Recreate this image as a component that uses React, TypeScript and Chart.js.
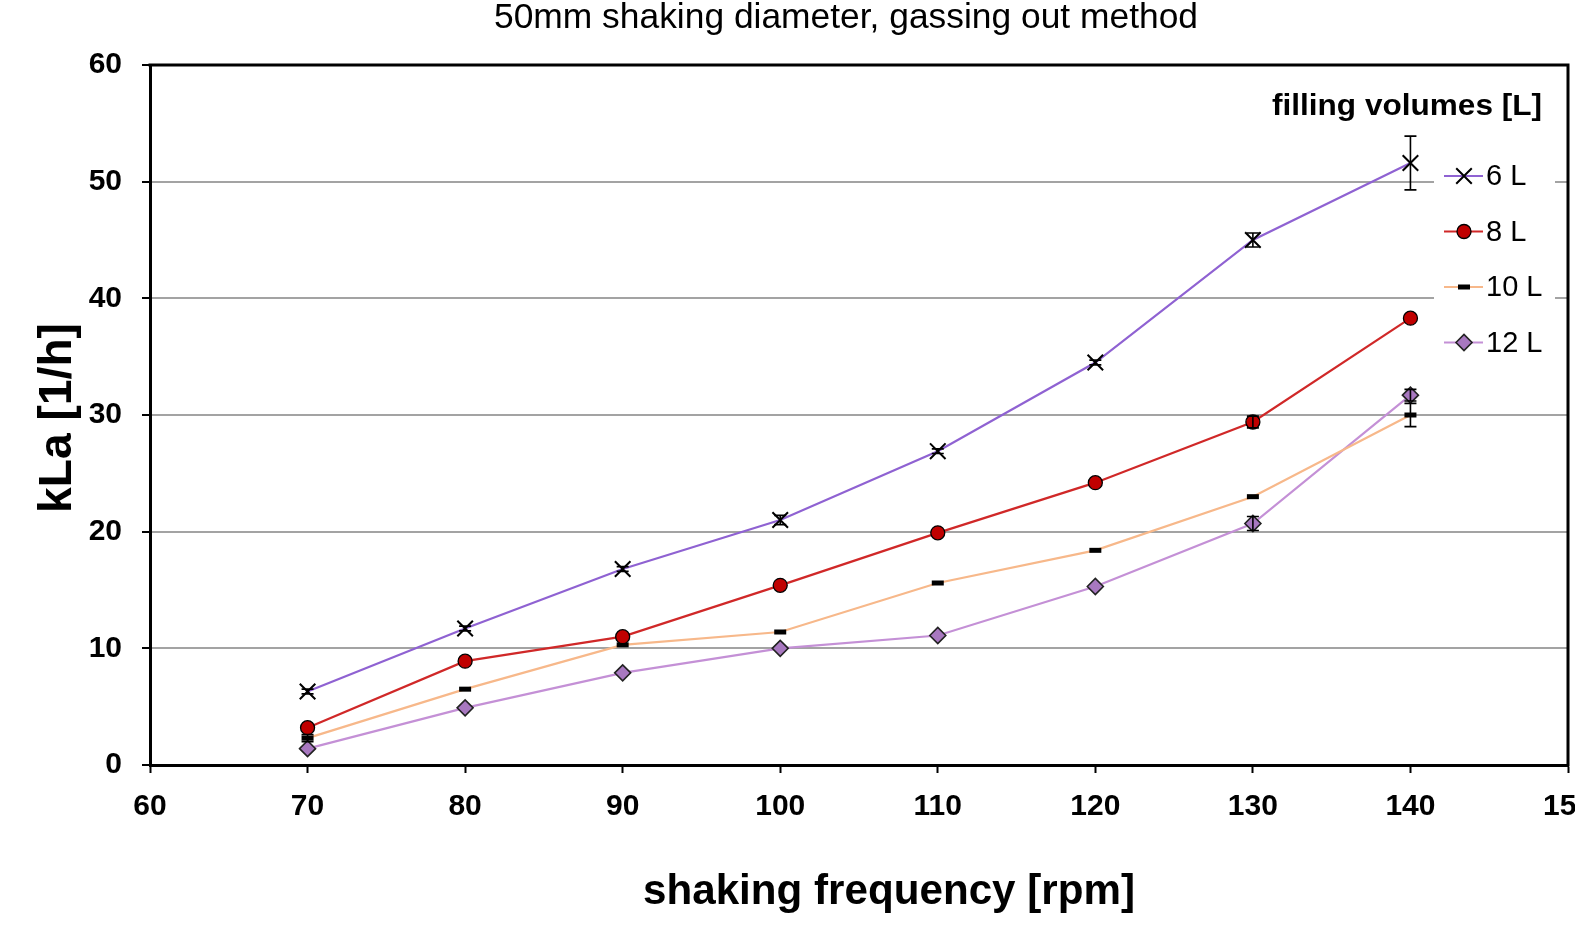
import React, { useEffect, useRef } from 'react';
import { Chart, registerables } from 'chart.js';
import { drawPoint } from 'chart.js/helpers';

Chart.register(...registerables);

// ---- data ----
const frequencies = [70, 80, 90, 100, 110, 120, 130, 140];
const kla6L = [6.3, 11.7, 16.8, 21.0, 26.9, 34.5, 45.0, 51.6];
const kla8L = [3.2, 8.9, 11.0, 15.4, 19.9, 24.2, 29.4, 38.3];
const kla10L = [2.3, 6.5, 10.3, 11.4, 15.6, 18.4, 23.0, 30.0];
const kla12L = [1.4, 4.9, 7.9, 10.0, 11.1, 15.3, 20.7, 31.7];
const err6L = [0.2, 0.2, 0.2, 0.4, 0.2, 0.2, 0.6, 2.3];
const err8L = [0, 0, 0, 0, 0, 0, 0.5, 0];
const err10L = [0.3, 0, 0, 0, 0, 0, 0, 1.0];
const err12L = [0, 0, 0, 0, 0, 0, 0.6, 0.5];
const seriesLabels = ['6 L', '8 L', '10 L', '12 L'];
const chartTitle = '50mm shaking diameter, gassing out method';
const xTitle = 'shaking frequency [rpm]';
const yTitle = 'kLa [1/h]';
const legendTitle = 'filling volumes [L]';
const xMin = 60, xMax = 150, xStep = 10;
const yMin = 0, yMax = 60, yStep = 10;

const SANS = "'Liberation Sans', Arial, sans-serif";

function fitText(ctx: CanvasRenderingContext2D, text: string, x: number, y: number, width: number, font: string) {
  ctx.save();
  ctx.font = font;
  const w = ctx.measureText(text).width;
  const s = width / w;
  ctx.translate(x, y);
  ctx.scale(s, 1);
  ctx.textAlign = 'center';
  ctx.fillText(text, 0, 0);
  ctx.restore();
}

const decorPlugin = {
  id: 'decor',
  afterDatasetsDraw(chart: any) {
    const ctx: CanvasRenderingContext2D = chart.ctx;
    const xs = chart.scales.x;
    const ys = chart.scales.y;
    const area = chart.chartArea;

    // error bars
    ctx.save();
    ctx.strokeStyle = '#000';
    ctx.lineWidth = 1.6;
    chart.data.datasets.forEach((ds: any) => {
      const errs: number[] = ds.errorBars || [];
      ds.data.forEach((p: any, i: number) => {
        const e = errs[i];
        if (!e) return;
        const px = xs.getPixelForValue(p.x);
        const y1 = ys.getPixelForValue(p.y + e);
        const y2 = ys.getPixelForValue(p.y - e);
        ctx.beginPath();
        ctx.moveTo(px, y1); ctx.lineTo(px, y2);
        ctx.moveTo(px - 6, y1); ctx.lineTo(px + 6, y1);
        ctx.moveTo(px - 6, y2); ctx.lineTo(px + 6, y2);
        ctx.stroke();
      });
    });
    ctx.restore();

    // top and right border
    ctx.save();
    ctx.strokeStyle = '#000';
    ctx.lineWidth = 3;
    ctx.beginPath();
    ctx.moveTo(area.left - 1.5, area.top);
    ctx.lineTo(area.right, area.top);
    ctx.lineTo(area.right, area.bottom + 1.5);
    ctx.stroke();
    ctx.restore();

    // legend
    ctx.save();
    ctx.fillStyle = '#fff';
    ctx.fillRect(1434, 150, 121, 218);
    ctx.fillStyle = '#000';
    ctx.textBaseline = 'alphabetic';
    fitText(ctx, legendTitle, 1407, 115, 270, `bold 30px ${SANS}`);
    chart.data.datasets.forEach((ds: any, i: number) => {
      const cy = 176 + i * 55.5;
      ctx.strokeStyle = ds.borderColor;
      ctx.lineWidth = 2;
      ctx.beginPath();
      ctx.moveTo(1444, cy);
      ctx.lineTo(1483, cy);
      ctx.stroke();
      ctx.fillStyle = ds.pointBackgroundColor;
      ctx.strokeStyle = ds.pointBorderColor;
      ctx.lineWidth = ds.pointBorderWidth;
      drawPoint(ctx, { pointStyle: ds.pointStyle, radius: ds.pointRadius, rotation: 0, borderWidth: ds.pointBorderWidth }, 1464, cy);
      ctx.fillStyle = '#000';
      ctx.font = `29px ${SANS}`;
      ctx.textAlign = 'left';
      ctx.textBaseline = 'middle';
      ctx.fillText(ds.label, 1486, cy + 1);
    });
    ctx.restore();

    // titles
    ctx.save();
    ctx.fillStyle = '#000';
    ctx.textBaseline = 'alphabetic';
    fitText(ctx, chartTitle, 846, 28, 704, `35px ${SANS}`);
    fitText(ctx, xTitle, 889, 904, 492, `bold 43px ${SANS}`);
    ctx.translate(71, 418);
    ctx.rotate(-Math.PI / 2);
    fitText(ctx, yTitle, 0, 0, 190, `bold 46px ${SANS}`);
    ctx.restore();
  },
};

function toPoints(values: number[]) {
  return values.map((v, i) => ({ x: frequencies[i], y: v }));
}

export default function App() {
  const ref = useRef<HTMLCanvasElement>(null);
  useEffect(() => {
    if (!ref.current) return;
    const chart = new Chart(ref.current, {
      type: 'line',
      data: {
        datasets: [
          {
            label: seriesLabels[0], data: toPoints(kla6L), errorBars: err6L,
            borderColor: '#8f62d2', borderWidth: 2.2,
            pointStyle: 'crossRot', pointRadius: 11, pointBorderWidth: 2,
            pointBorderColor: '#000', pointBackgroundColor: '#000',
          } as any,
          {
            label: seriesLabels[1], data: toPoints(kla8L), errorBars: err8L,
            borderColor: '#d02828', borderWidth: 2.2,
            pointStyle: 'circle', pointRadius: 7, pointBorderWidth: 1.3,
            pointBorderColor: '#000', pointBackgroundColor: '#c00000',
          } as any,
          {
            label: seriesLabels[2], data: toPoints(kla10L), errorBars: err10L,
            borderColor: '#f7b88a', borderWidth: 2.2,
            pointStyle: 'line', pointRadius: 6, pointBorderWidth: 5,
            pointBorderColor: '#000', pointBackgroundColor: '#000',
          } as any,
          {
            label: seriesLabels[3], data: toPoints(kla12L), errorBars: err12L,
            borderColor: '#c490d6', borderWidth: 2.2,
            pointStyle: 'rectRot', pointRadius: 8, pointBorderWidth: 1.6,
            pointBorderColor: '#222', pointBackgroundColor: '#a878c0',
          } as any,
        ],
      },
      options: {
        responsive: false,
        animation: false,
        devicePixelRatio: 1,
        layout: { autoPadding: false, padding: { top: 65, right: 7, left: 0, bottom: 0 } },
        plugins: { legend: { display: false }, title: { display: false }, tooltip: { enabled: false } },
        scales: {
          x: {
            type: 'linear', min: xMin, max: xMax,
            ticks: { stepSize: xStep, color: '#000', font: { family: SANS, size: 30, weight: 'bold' }, padding: 16, maxRotation: 0, autoSkip: false },
            grid: { drawOnChartArea: false, drawTicks: true, tickLength: 8, tickColor: '#000', tickWidth: 2 },
            border: { color: '#000', width: 3 },
            afterFit: (s: any) => { s.height = 928 - 765; s.paddingLeft = 0; s.paddingRight = 0; },
          },
          y: {
            type: 'linear', min: yMin, max: yMax,
            ticks: { stepSize: yStep, color: '#000', font: { family: SANS, size: 30, weight: 'bold' }, padding: 20 },
            grid: { color: '#a3a3a3', lineWidth: 2, drawTicks: true, tickLength: 8, tickColor: '#000', tickWidth: 2 },
            border: { color: '#000', width: 3 },
            afterFit: (s: any) => { s.width = 150; s.paddingTop = 0; s.paddingBottom = 0; },
          },
        },
      },
      plugins: [decorPlugin],
    } as any);
    return () => chart.destroy();
  }, []);
  return (
    <div style={{ position: 'absolute', left: 0, top: 0, width: 1575, height: 928, background: '#fff' }}>
      <canvas ref={ref} width={1575} height={928} style={{ width: 1575, height: 928 }} />
    </div>
  );
}
